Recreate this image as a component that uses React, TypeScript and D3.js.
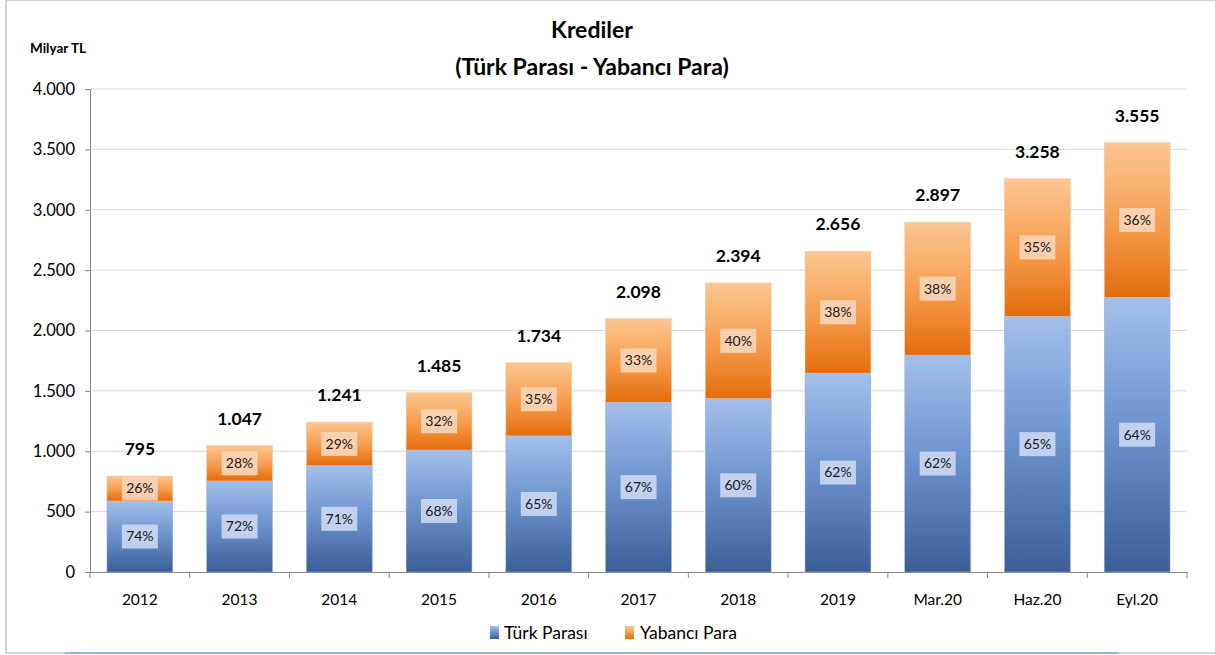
import React, { useEffect, useRef } from 'react';
import * as d3 from 'd3';

const categories = ['2012', '2013', '2014', '2015', '2016', '2017', '2018', '2019', 'Mar.20', 'Haz.20', 'Eyl.20'];
const turkParasi = [588, 754, 881, 1010, 1127, 1406, 1436, 1647, 1796, 2118, 2275];
const yabanciPara = [207, 293, 360, 475, 607, 692, 958, 1009, 1101, 1140, 1280];
const totals = ['795', '1.047', '1.241', '1.485', '1.734', '2.098', '2.394', '2.656', '2.897', '3.258', '3.555'];
const tpShare = ['74%', '72%', '71%', '68%', '65%', '67%', '60%', '62%', '62%', '65%', '64%'];
const ypShare = ['26%', '28%', '29%', '32%', '35%', '33%', '40%', '38%', '38%', '35%', '36%'];
const yTicks = [0, 500, 1000, 1500, 2000, 2500, 3000, 3500, 4000];

const FONT = 'Lato, "Open Sans", sans-serif';
const W = 1215;
const H = 655;

const App = () => {
  const svgRef = useRef<SVGSVGElement>(null);

  useEffect(() => {
    const svg = d3.select(svgRef.current);
    svg.selectAll('*').remove();

    const margin = { top: 89, right: 28, bottom: 83, left: 90 };
    const cw = W - margin.left - margin.right;
    const ch = H - margin.top - margin.bottom;

    // gradients
    const defs = svg.append('defs');
    const blue = defs.append('linearGradient').attr('id', 'gBlue')
      .attr('x1', 0).attr('y1', 0).attr('x2', 0).attr('y2', 1);
    blue.append('stop').attr('offset', '0%').attr('stop-color', '#a3c0ea');
    blue.append('stop').attr('offset', '45%').attr('stop-color', '#6f95d0');
    blue.append('stop').attr('offset', '100%').attr('stop-color', '#3b5e97');
    const orange = defs.append('linearGradient').attr('id', 'gOrange')
      .attr('x1', 0).attr('y1', 0).attr('x2', 0).attr('y2', 1);
    orange.append('stop').attr('offset', '0%').attr('stop-color', '#fcc792');
    orange.append('stop').attr('offset', '55%').attr('stop-color', '#f59a4a');
    orange.append('stop').attr('offset', '100%').attr('stop-color', '#e46c0c');

    // outer frame
    svg.append('line').attr('x1', 6).attr('x2', 6).attr('y1', 0).attr('y2', 653).attr('stroke', '#a6a6a6');
    svg.append('line').attr('x1', 6).attr('x2', W).attr('y1', 0.5).attr('y2', 0.5).attr('stroke', '#d0d0d0');
    svg.append('line').attr('x1', 6).attr('x2', W).attr('y1', 653).attr('y2', 653).attr('stroke', '#a6a6a6');
    svg.append('line').attr('x1', 65).attr('x2', 1118).attr('y1', 653).attr('y2', 653)
      .attr('stroke', '#8db4e2').attr('stroke-width', 2);

    const g = svg.append('g').attr('transform', `translate(${margin.left},${margin.top})`);

    const x = d3.scaleBand().domain(categories).range([0, cw]).paddingInner(0.34).paddingOuter(0.17);
    const y = d3.scaleLinear().domain([0, 4000]).range([ch, 0]);

    // gridlines
    g.append('g').selectAll('line').data(yTicks.filter(t => t > 0)).enter().append('line')
      .attr('x1', 0).attr('x2', cw).attr('y1', d => y(d)).attr('y2', d => y(d))
      .attr('stroke', '#d9d9d9');

    // y axis
    const yAxis = g.append('g').call(
      d3.axisLeft(y).tickValues(yTicks).tickSize(5).tickPadding(10)
        .tickFormat(d => d3.format(',')(d as number).replace(/,/g, '.'))
    );
    yAxis.select('.domain').attr('stroke', '#868686');
    yAxis.selectAll('line').attr('stroke', '#868686');
    yAxis.selectAll('text').attr('font-family', FONT).attr('font-size', 16.5).attr('fill', '#000');

    // x axis
    const xAxis = g.append('g').attr('transform', `translate(0,${ch})`)
      .call(d3.axisBottom(x).tickSize(0).tickPadding(22));
    xAxis.select('.domain').attr('stroke', '#868686');
    xAxis.selectAll('text').attr('font-family', FONT).attr('font-size', 15.5).attr('fill', '#000');
    const step = x.step();
    g.append('g').selectAll('line').data(d3.range(categories.length + 1)).enter().append('line')
      .attr('x1', i => i * step).attr('x2', i => i * step)
      .attr('y1', ch).attr('y2', ch + 6).attr('stroke', '#868686');

    const bw = x.bandwidth();

    // TP bars
    g.append('g').selectAll('rect').data(categories).enter().append('rect')
      .attr('x', d => x(d)!)
      .attr('y', (d, i) => y(turkParasi[i]))
      .attr('width', bw)
      .attr('height', (d, i) => ch - y(turkParasi[i]))
      .attr('fill', 'url(#gBlue)')
      .attr('stroke', '#9aaed0').attr('stroke-width', 0.5);

    // YP bars
    g.append('g').selectAll('rect').data(categories).enter().append('rect')
      .attr('x', d => x(d)!)
      .attr('y', (d, i) => y(turkParasi[i] + yabanciPara[i]))
      .attr('width', bw)
      .attr('height', (d, i) => y(turkParasi[i]) - y(turkParasi[i] + yabanciPara[i]))
      .attr('fill', 'url(#gOrange)')
      .attr('stroke', '#f0c8a8').attr('stroke-width', 0.5);

    // percentage labels
    const labelBox = (cls: string, values: string[], mid: (i: number) => number, bg: string) => {
      const lg = g.append('g').selectAll(`g.${cls}`).data(categories).enter().append('g')
        .attr('class', cls)
        .attr('transform', (d, i) => `translate(${x(d)! + bw / 2},${mid(i)})`);
      lg.append('rect').attr('x', -18).attr('y', -12).attr('width', 36).attr('height', 24)
        .attr('fill', bg);
      lg.append('text').attr('text-anchor', 'middle').attr('dy', '0.35em')
        .attr('font-family', FONT).attr('font-size', 14).attr('fill', '#1a1a1a')
        .text((d, i) => values[i]);
    };
    labelBox('tp', tpShare, i => (y(0) + y(turkParasi[i])) / 2, 'rgba(205,218,242,0.88)');
    labelBox('yp', ypShare, i => (y(turkParasi[i]) + y(turkParasi[i] + yabanciPara[i])) / 2, 'rgba(250,212,182,0.92)');

    // totals
    g.append('g').selectAll('text').data(categories).enter().append('text')
      .attr('x', d => x(d)! + bw / 2)
      .attr('y', (d, i) => y(turkParasi[i] + yabanciPara[i]) - 21)
      .attr('text-anchor', 'middle')
      .attr('font-family', FONT).attr('font-weight', 'bold').attr('font-size', 17.5).attr('fill', '#000')
      .text((d, i) => totals[i]);

    // titles
    svg.append('text').attr('x', 592).attr('y', 38).attr('text-anchor', 'middle')
      .attr('font-family', FONT).attr('font-weight', 'bold').attr('font-size', 23).text('Krediler');
    svg.append('text').attr('x', 592).attr('y', 75).attr('text-anchor', 'middle')
      .attr('font-family', FONT).attr('font-weight', 'bold').attr('font-size', 23).text('(Türk Parası - Yabancı Para)');
    svg.append('text').attr('x', 30).attr('y', 53)
      .attr('font-family', FONT).attr('font-weight', 'bold').attr('font-size', 13.5).text('Milyar TL');

    // legend
    const legend = svg.append('g').attr('transform', 'translate(490,626)');
    legend.append('rect').attr('x', 0).attr('y', 0).attr('width', 9).attr('height', 13).attr('fill', 'url(#gBlue)');
    legend.append('text').attr('x', 14).attr('y', 13).attr('font-family', FONT).attr('font-size', 17.5).text('Türk Parası');
    legend.append('rect').attr('x', 135).attr('y', 0).attr('width', 9).attr('height', 13).attr('fill', 'url(#gOrange)');
    legend.append('text').attr('x', 150).attr('y', 13).attr('font-family', FONT).attr('font-size', 17.5).text('Yabancı Para');
  }, []);

  return (
    <svg ref={svgRef} width={W} height={H}
      style={{ position: 'absolute', left: 0, top: 0, background: '#fff' }} />
  );
};

export default App;
